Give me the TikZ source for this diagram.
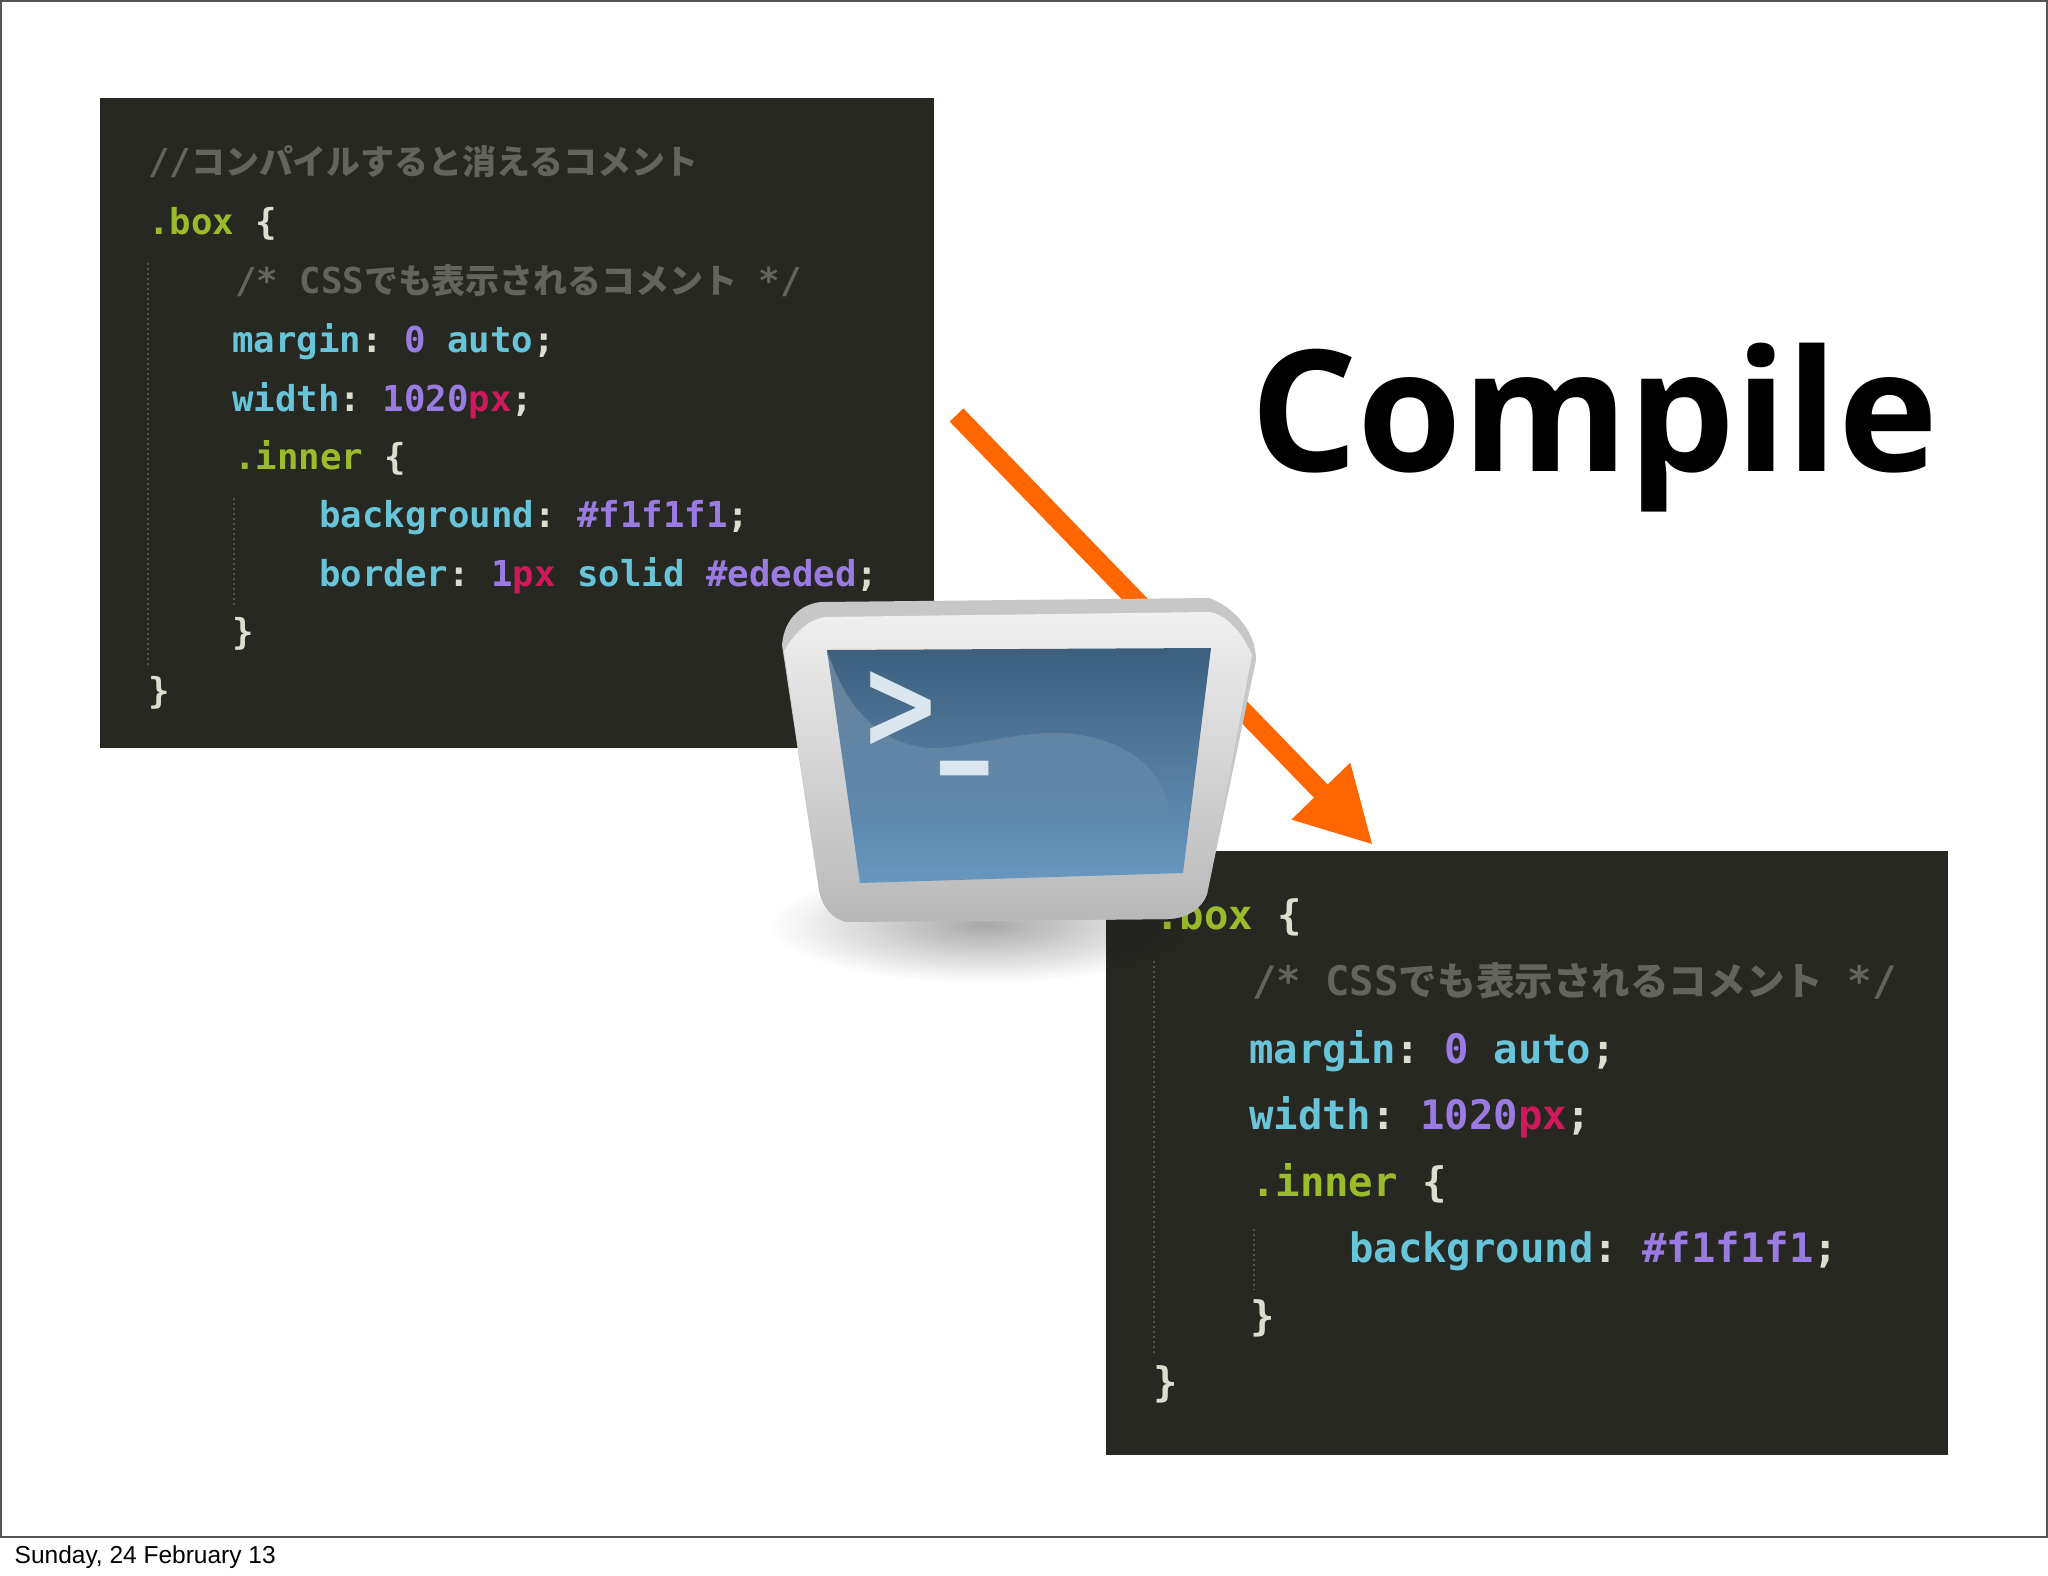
\documentclass[tikz,border=0pt]{standalone}
\usepackage{fontspec}
\setmainfont{Liberation Sans}
\setmonofont{DejaVu Sans Mono}
\newfontfamily\cjk[Scale=0.95]{Noto Sans CJK JP}
\newfontfamily\titlefont{Open Sans}
\newfontfamily\iconfont{DejaVu Sans}
\usetikzlibrary{arrows.meta,fadings}
\definecolor{editor bg}{HTML}{282823}
\definecolor{editor guide}{HTML}{55554F}
\definecolor{note gray}{HTML}{64645C}
\definecolor{sel green}{HTML}{9CBB2A}
\definecolor{prop cyan}{HTML}{68C4D8}
\definecolor{val purple}{HTML}{9A7BE2}
\definecolor{unit red}{HTML}{D0195A}
\definecolor{punct light}{HTML}{DEDED0}
\definecolor{compile orange}{HTML}{FF6600}
\definecolor{slide edge}{HTML}{555555}
\definecolor{prompt light}{HTML}{DCE6EE}
\def\boxone{(100,98) rectangle (934,748)}
\def\boxtwo{(1106,851) rectangle (1948,1455)}
\def\iconscreen{(827,650) -- (1211,648) -- (1183,873) -- (860,883) -- cycle}
\newcommand\cnote[1]{\textcolor{note gray}{#1}}
\newcommand\csel[1]{\textcolor{sel green}{#1}}
\newcommand\cprop[1]{\textcolor{prop cyan}{#1}}
\newcommand\cval[1]{\textcolor{val purple}{#1}}
\newcommand\cunit[1]{\textcolor{unit red}{#1}}
\newcommand\cpun[1]{\textcolor{punct light}{#1}}
\newcommand\jp[1]{{\cjk #1}}
\tikzfading[name=fade down, top color=transparent!15, middle color=transparent!70, bottom color=transparent!100]
\tikzfading[name=fade round, inner color=transparent!66, outer color=transparent!100]
\tikzset{
  editor/.style={fill=editor bg},
  guide/.style={draw=editor guide, line width=1.3pt, dash pattern=on 2pt off 3pt},
  codesmall/.style={anchor=base west, inner sep=0pt, font=\ttfamily\bfseries\fontsize{35.7}{40}\selectfont},
  codelarge/.style={anchor=base west, inner sep=0pt, font=\ttfamily\bfseries\fontsize{40.6}{46}\selectfont},
  compilearrow/.style={draw=compile orange, line width=19pt, -{Triangle[length=75pt,width=76pt,fill=compile orange]}}
}
\begin{document}
\begin{tikzpicture}[x=1pt,y=-1pt]
    \useasboundingbox (0,0) rectangle (2048,1576);
    \fill[white] (0,0) rectangle (2048,1576);
    \draw[slide edge, line width=2pt] (1,1) rectangle (2047,1537);
    \node[anchor=base west, inner sep=0pt, font=\fontsize{24.5}{28}\selectfont] (datestamp) at (14.5,1563) {Sunday, 24 February 13};
    \node[anchor=base west, inner sep=0pt, font=\titlefont\bfseries\fontsize{169}{169}\selectfont] (compiletitle) at (1250,471) {Compile};
    % first editor
    \fill[editor] \boxone;
    \draw[guide] (148,263) -- (148,667);
    \draw[guide] (234,498) -- (234,607);
    \node[codesmall] (onenote) at (148,175) {\cnote{//\jp{コンパイルすると消えるコメント}}};
    \node[codesmall] (onebox) at (148,234) {\csel{.box} \cpun{\{}};
    \node[codesmall] (onecss) at (235,293) {\cnote{/* CSS\jp{でも表示されるコメント} */}};
    \node[codesmall] (onemargin) at (232,352) {\cprop{margin}\cpun{:} \cval{0} \cprop{auto}\cpun{;}};
    \node[codesmall] (onewidth) at (232,411) {\cprop{width}\cpun{:} \cval{1020}\cunit{px}\cpun{;}};
    \node[codesmall] (oneinner) at (234,469) {\csel{.inner} \cpun{\{}};
    \node[codesmall] (oneback) at (319,527) {\cprop{background}\cpun{:} \cval{\#f1f1f1}\cpun{;}};
    \node[codesmall] (oneborder) at (319,586) {\cprop{border}\cpun{:} \cval{1}\cunit{px} \cprop{solid} \cval{\#ededed}\cpun{;}};
    \node[codesmall] (oneclosein) at (232,644) {\cpun{\}}};
    \node[codesmall] (oneclose) at (148,703) {\cpun{\}}};
    % second editor
    \fill[editor] \boxtwo;
    \draw[guide] (1154,961) -- (1154,1356);
    \draw[guide] (1254,1229) -- (1254,1290);
    \node[codelarge] (twobox) at (1155,929) {\csel{.box} \cpun{\{}};
    \node[codelarge] (twocss) at (1252,995) {\cnote{/* CSS\jp{でも表示されるコメント} */}};
    \node[codelarge] (twomargin) at (1249,1063) {\cprop{margin}\cpun{:} \cval{0} \cprop{auto}\cpun{;}};
    \node[codelarge] (twowidth) at (1249,1129) {\cprop{width}\cpun{:} \cval{1020}\cunit{px}\cpun{;}};
    \node[codelarge] (twoinner) at (1251,1196) {\csel{.inner} \cpun{\{}};
    \node[codelarge] (twoback) at (1349,1262) {\cprop{background}\cpun{:} \cval{\#f1f1f1}\cpun{;}};
    \node[codelarge] (twoclosein) at (1250,1330) {\cpun{\}}};
    \node[codelarge] (twoclose) at (1153,1396) {\cpun{\}}};
    % arrow goes behind the terminal icon
    \coordinate (arrowtail) at (956.5,415);
    \coordinate (arrowtip) at (1373,845);
    \draw[compilearrow] (arrowtail) -- (arrowtip);
    % terminal icon
    \fill[black, path fading=fade round] (985,925) ellipse (215 and 58);
    \fill[black!22] (782,645) .. controls (784,620) and (800,604) .. (821,602) -- (1209,598)
      .. controls (1232,606) and (1256,630) .. (1256,660) -- (1207,894)
      .. controls (1202,908) and (1188,918) .. (1168,919) -- (848,922)
      .. controls (832,920) and (822,906) .. (819,890) -- cycle;
    \shade[top color=black!6, middle color=black!17, bottom color=black!28]
      (784,651) .. controls (795,632) and (808,620) .. (825,617) -- (1209,612)
      .. controls (1224,614) and (1240,628) .. (1252,655) -- (1207,894)
      .. controls (1202,908) and (1188,918) .. (1168,919) -- (848,922)
      .. controls (832,920) and (822,906) .. (819,890) -- cycle;
    \shade[top color={rgb,255:red,61;green,95;blue,126}, middle color={rgb,255:red,73;green,114;blue,152}, bottom color={rgb,255:red,104;green,152;blue,192}] \iconscreen;
    \begin{scope}
      \clip \iconscreen;
      \fill[white, fill opacity=0.28, path fading=fade down] (827,650)
        .. controls (840,690) and (865,735) .. (915,746)
        .. controls (950,755) and (1000,733) .. (1054,733)
        .. controls (1110,733) and (1160,760) .. (1168,806)
        -- (1168,830) -- (840,830) -- cycle;
    \end{scope}
    \node[inner sep=0pt, text=prompt light, xscale=1.05, yscale=1.4, font=\iconfont\bfseries\fontsize{92}{92}\selectfont] (iconprompt) at (900.5,710) {>};
    \node[inner sep=0pt, text=prompt light, xscale=1.1, yscale=1.8, font=\iconfont\bfseries\fontsize{88}{88}\selectfont, anchor=base] (iconcursor) at (965,738) {\_};
\end{tikzpicture}
\end{document}
